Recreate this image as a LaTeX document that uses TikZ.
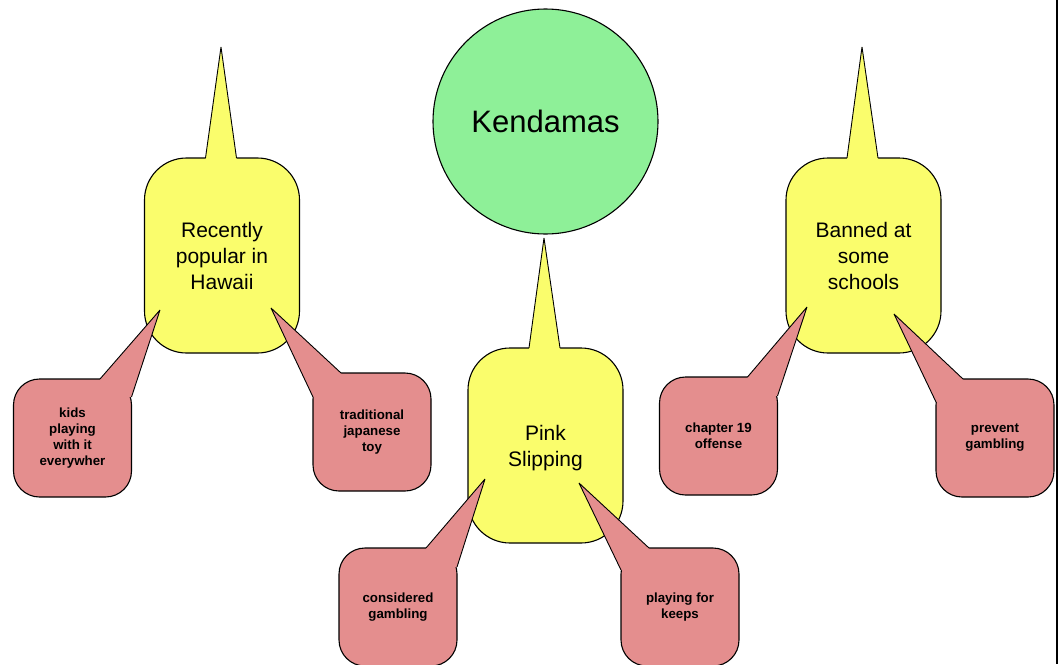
\documentclass[tikz,border=0pt]{standalone}
\usepackage{fontspec}
\setmainfont{Liberation Sans}
\usetikzlibrary{calc}
\definecolor{yelc}{RGB}{250,253,108}
\definecolor{pinkc}{RGB}{228,142,142}
\definecolor{grnc}{RGB}{142,240,152}
\begin{document}
\begin{tikzpicture}[x=1pt,y=-1pt,
  ybox/.style={rectangle, rounded corners=42pt, draw=black, line width=1.1pt, fill=yelc,
    minimum width=155pt, minimum height=195pt, inner sep=0pt, outer sep=0pt,
    align=center, font=\fontsize{21}{26}\selectfont},
  ytext/.style={inner sep=0pt, align=center, font=\fontsize{21}{26}\selectfont},
  pbox/.style={rectangle, rounded corners=26pt, draw=black, line width=1.1pt, fill=pinkc,
    minimum width=118pt, minimum height=118pt, inner sep=0pt, outer sep=0pt,
    align=center, font=\fontsize{13.3}{16}\selectfont\bfseries},
  kcirc/.style={circle, draw=black, line width=1.1pt, fill=grnc, minimum size=225pt,
    inner sep=0pt, outer sep=0pt, font=\fontsize{31}{36}\selectfont},
  edge/.style={draw=black, line width=0.9pt, line join=bevel},
]
\useasboundingbox (0,0) rectangle (1060,664);

% central circle
\node[kcirc] (k) at (545.5,121.5) {Kendamas};

% yellow callouts
\node[ybox] (y1) at (222,255.5) {Recently\\popular in\\Hawaii};
\node[ybox] (y2) at (545.5,445.5) {};
\node[ytext] (y2lab) at (545.5,448.5) {Pink\\Slipping};
\node[ybox] (y3) at (863.5,255.5) {Banned at\\some\\schools};

\coordinate (y1t) at (221,47);
\coordinate (y2t) at (544,238);
\coordinate (y3t) at (862,47);

\foreach \n in {y1,y2,y3}{
  \fill[yelc] ($(\n.north)+(-16.5,0)$) -- (\n t) -- ($(\n.north)+(14.5,0)$)
     -- ($(\n.north)+(14.5,3)$) -- ($(\n.north)+(-16.5,3)$) -- cycle;
  \draw[edge] ($(\n.north)+(-16.5,0)$) -- (\n t) -- ($(\n.north)+(14.5,0)$);
}

% pink callouts
\node[pbox] (p1) at (72.5,438) {kids\\playing\\with it\\everywher};
\node[pbox] (p2) at (372,432) {traditional\\japanese\\toy};
\node[pbox] (p3) at (398,607) {considered\\gambling};
\node[pbox] (p4) at (680,607) {playing for\\keeps};
\node[pbox] (p5) at (718.5,436) {chapter 19\\offense};
\node[pbox] (p6) at (995,438) {prevent\\gambling};

\coordinate (p1t) at (160,310);
\coordinate (p2t) at (271,308);
\coordinate (p3t) at (485,479);
\coordinate (p4t) at (579,483);
\coordinate (p5t) at (807,307);
\coordinate (p6t) at (894,314);

% spikes leaving the top-right corner
\coordinate (p1a) at ($(p1.north east)+(-31.5,0)$);
\coordinate (p1b) at ($(p1.north east)+(0,18)$);
\coordinate (p3a) at ($(p3.north east)+(-31,0)$);
\coordinate (p3b) at ($(p3.north east)+(0,19)$);
\coordinate (p5a) at ($(p5.north east)+(-30,0)$);
\coordinate (p5b) at ($(p5.north east)+(0,19)$);
% spikes leaving the top-left corner
\coordinate (p2a) at ($(p2.north west)+(28,0)$);
\coordinate (p2b) at ($(p2.north west)+(0,24)$);
\coordinate (p4a) at ($(p4.north west)+(28,0)$);
\coordinate (p4b) at ($(p4.north west)+(0,22)$);
\coordinate (p6a) at ($(p6.north west)+(27,0)$);
\coordinate (p6b) at ($(p6.north west)+(0,23)$);

\foreach \n in {p1,p3,p5}{
  \fill[pinkc] (\n a) -- (\n t) -- (\n b) -- ($(\n b)+(-3,0)$) -- ($(\n a)+(0,3)$) -- cycle;
  \draw[edge] (\n a) -- (\n t) -- (\n b);
}
\foreach \n in {p2,p4,p6}{
  \fill[pinkc] (\n a) -- (\n t) -- (\n b) -- ($(\n b)+(3,0)$) -- ($(\n a)+(0,3)$) -- cycle;
  \draw[edge] (\n a) -- (\n t) -- (\n b);
}

% frame line at the right
\draw[line width=2pt] (1057,0) -- (1057,664);
\end{tikzpicture}
\end{document}
